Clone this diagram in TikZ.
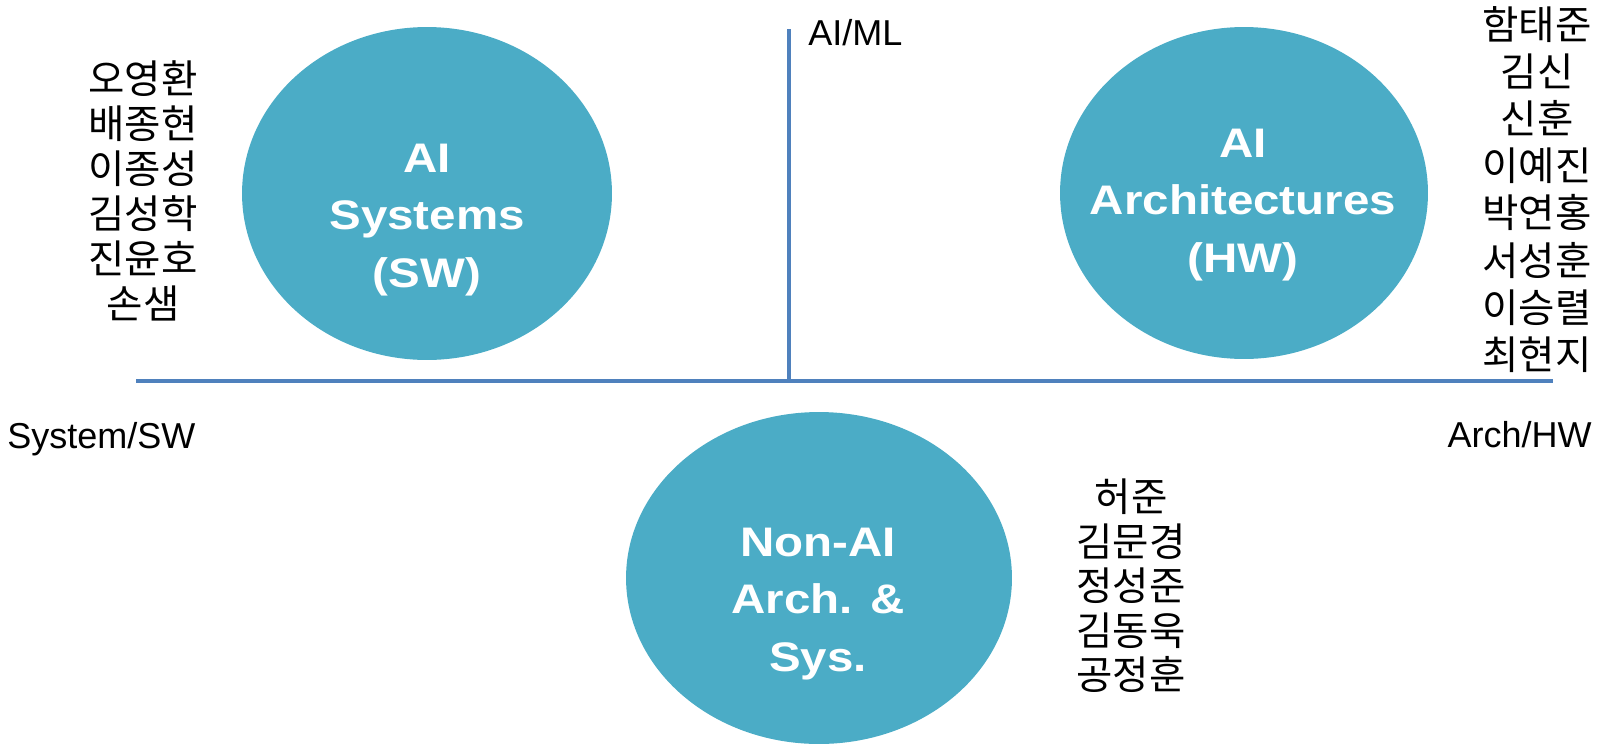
\documentclass[tikz,border=0pt]{standalone}
\usepackage{fontspec}
\setmainfont{Liberation Sans}
\newfontfamily\hangul{Noto Sans CJK KR}
\newfontfamily\areafont[FakeStretch=1.15]{Liberation Sans Bold}
\usepackage{tikz}
\usepackage{xcolor}
\usetikzlibrary{shapes.geometric}
\definecolor{bubble}{RGB}{75,172,198}
\definecolor{axisblue}{RGB}{79,129,189}
\setlength{\lineskiplimit}{-30pt}
\tikzset{
  area/.style={ellipse, fill=bubble, inner sep=0pt},
  areatext/.style={text=white, align=center, inner sep=0pt,
                   font=\areafont\fontsize{23.5}{32.7}\selectfont},
  names/.style={align=center, inner sep=0pt,
                font=\hangul\fontsize{22.5}{#1}\selectfont},
  names/.default=25.6pt,
  axislabel/.style={font=\fontsize{20.5}{25}\selectfont, inner sep=0pt},
  axis/.style={draw=axisblue, line width=2.6pt},
}

\begin{document}
\begin{tikzpicture}[x=0.02cm, y=-0.02cm]
  \clip (0,0) rectangle (1598,744);

  % the two axes
  \coordinate (xl) at (136,381);
  \coordinate (xr) at (1553,381);
  \coordinate (yt) at (789,29);
  \coordinate (yb) at (789,381);
  \draw[axis] (xl) -- (xr);
  \draw[axis] (yt) -- (yb);

  \node[axislabel, anchor=base west] (aiml) at (808,45) {AI/ML};
  \node[axislabel, anchor=base west] (syssw) at (7,448) {System/SW};
  \node[axislabel, anchor=base east] (archhw) at (1592,447) {Arch/HW};

  % research areas
  \node[area, minimum width=7.4cm, minimum height=6.66cm] (aisys) at (427,193.5) {};
  \node[area, minimum width=7.36cm, minimum height=6.64cm] (aiarch) at (1244,193) {};
  \node[area, minimum width=7.72cm, minimum height=6.64cm] (nonai) at (819,578) {};

  \node[areatext] (aisystxt)  at (427,220)  {AI\\Systems\\(SW)};
  \node[areatext] (aiarchtxt) at (1243,205) {AI\\Architectures\\(HW)};
  \node[areatext] (nonaitxt)  at (818,604)  {Non-AI\\Arch. \&\\Sys.};

  % members
  \node[names] (swnames) at (143,191)
    {오영환\\배종현\\이종성\\김성학\\진윤호\\손샘};
  \node[names=26.8pt] (hwnames) at (1537,189.5)
    {함태준\\김신\\신훈\\이예진\\박연홍\\서성훈\\이승렬\\최현지};
  \node[names=25.3pt] (otnames) at (1131,586)
    {허준\\김문경\\정성준\\김동욱\\공정훈};
\end{tikzpicture}
\end{document}
